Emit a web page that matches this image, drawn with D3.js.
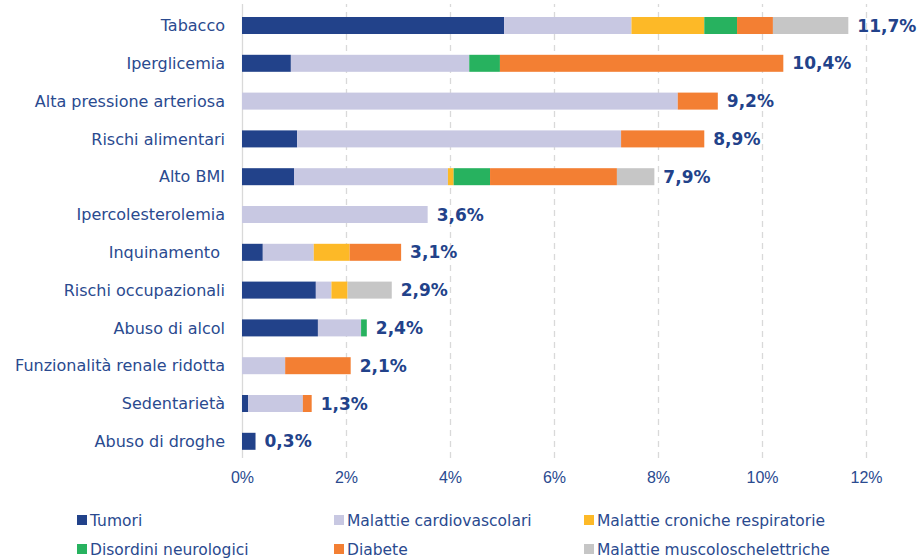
<!DOCTYPE html>
<html>
<head>
<meta charset="utf-8">
<script src="https://cdn.jsdelivr.net/npm/d3@7"></script>
<style>
  body { margin: 0; background: #fff; }
  svg { display: block; }
</style>
</head>
<body>
<svg width="919" height="559"></svg>
<script>
const categories = [
  "Tabacco", "Iperglicemia", "Alta pressione arteriosa", "Rischi alimentari",
  "Alto BMI", "Ipercolesterolemia", "Inquinamento ", "Rischi occupazionali",
  "Abuso di alcol", "Funzionalità renale ridotta", "Sedentarietà", "Abuso di droghe"
];
const seriesNames = [
  "Tumori", "Malattie cardiovascolari", "Malattie croniche respiratorie",
  "Disordini neurologici", "Diabete", "Malattie muscoloschelettriche"
];
const seriesColors = ["#22428a", "#c8c8e2", "#fdb927", "#27b25f", "#f37f33", "#c6c6c6"];

const tumori      = [5.04, 0.94, 0,    1.06, 1.00, 0,    0.40, 1.42, 1.46, 0,    0.12, 0.26];
const cardio      = [2.45, 3.43, 8.38, 6.23, 2.96, 3.57, 0.98, 0.30, 0.83, 0.83, 1.05, 0];
const respirat    = [1.40, 0,    0,    0,    0.11, 0,    0.69, 0.31, 0,    0,    0,    0];
const neurologici = [0.63, 0.59, 0,    0,    0.70, 0,    0,    0,    0.11, 0,    0,    0];
const diabete     = [0.69, 5.45, 0.77, 1.60, 2.44, 0,    0.99, 0,    0,    1.26, 0.17, 0];
const muscolo     = [1.45, 0,    0,    0,    0.72, 0,    0,    0.85, 0,    0,    0,    0];
const totalLabels = ["11,7%", "10,4%", "9,2%", "8,9%", "7,9%", "3,6%", "3,1%", "2,9%", "2,4%", "2,1%", "1,3%", "0,3%"];
const xTicks = [0, 2, 4, 6, 8, 10, 12];

function draw() {
  const svg = d3.select("svg");
  const textColor = "#2a4a8f";

  const rows = categories.map((c, i) => ({
    cat: c,
    Tumori: tumori[i],
    "Malattie cardiovascolari": cardio[i],
    "Malattie croniche respiratorie": respirat[i],
    "Disordini neurologici": neurologici[i],
    Diabete: diabete[i],
    "Malattie muscoloschelettriche": muscolo[i],
    label: totalLabels[i]
  }));

  const x = d3.scaleLinear().domain([0, 12]).range([242, 866]);
  const y = d3.scaleBand()
    .domain(categories)
    .range([6.6, 460.2])
    .paddingInner(0.55)
    .paddingOuter(0.275);
  const color = d3.scaleOrdinal().domain(seriesNames).range(seriesColors);

  // grid
  const xAxis = d3.axisBottom(x)
    .tickValues(xTicks)
    .tickFormat(d => d + "%")
    .tickSize(-(458 - 4))
    .tickPadding(14);
  const gx = svg.append("g")
    .attr("transform", "translate(0,458)")
    .call(xAxis);
  gx.select(".domain").remove();
  gx.selectAll(".tick line")
    .attr("stroke", "#d9d9d9")
    .attr("stroke-width", 1.3)
    .attr("stroke-dasharray", d => d === 0 ? null : "6,5");
  gx.selectAll(".tick text")
    .attr("fill", textColor)
    .attr("font-family", "'Liberation Sans', Arial, sans-serif")
    .attr("font-size", 16);

  // stacked bars
  const stacked = d3.stack().keys(seriesNames)(rows);
  svg.append("g")
    .selectAll("g")
    .data(stacked)
    .join("g")
    .attr("fill", d => color(d.key))
    .selectAll("rect")
    .data(d => d.filter(s => s[1] - s[0] > 0))
    .join("rect")
    .attr("x", d => x(d[0]))
    .attr("y", d => y(d.data.cat))
    .attr("width", d => x(d[1]) - x(d[0]))
    .attr("height", y.bandwidth());

  // total labels
  svg.append("g")
    .selectAll("text")
    .data(stacked[stacked.length - 1])
    .join("text")
    .attr("x", d => x(d[1]) + 9)
    .attr("y", d => y(d.data.cat) + y.bandwidth() / 2)
    .attr("dy", "0.36em")
    .attr("fill", "#22428a")
    .attr("font-family", "'DejaVu Sans', Verdana, sans-serif")
    .attr("font-weight", "bold")
    .attr("font-size", 17)
    .text(d => d.data.label);

  // category labels
  svg.append("g")
    .selectAll("text")
    .data(categories)
    .join("text")
    .attr("x", 225)
    .attr("y", d => y(d) + y.bandwidth() / 2)
    .attr("dy", "0.36em")
    .attr("text-anchor", "end")
    .attr("fill", textColor)
    .attr("font-family", "'DejaVu Sans', sans-serif")
    .attr("font-size", 16)
    .style("white-space", "pre")
    .text(d => d);

  // legend
  const legendX = [77, 334, 584];
  const legendY = [520, 549];
  const legend = svg.append("g")
    .selectAll("g")
    .data(seriesNames)
    .join("g")
    .attr("transform", (d, i) => `translate(${legendX[i % 3]},${legendY[Math.floor(i / 3)]})`);
  legend.append("rect")
    .attr("x", 0)
    .attr("y", -5)
    .attr("width", 10)
    .attr("height", 10)
    .attr("fill", d => color(d));
  legend.append("text")
    .attr("x", 13)
    .attr("y", 0)
    .attr("dy", "0.36em")
    .attr("fill", textColor)
    .attr("font-family", "'DejaVu Sans', sans-serif")
    .attr("font-size", 15.5)
    .text(d => d);
}

window.onload = draw;
</script>
</body>
</html>
